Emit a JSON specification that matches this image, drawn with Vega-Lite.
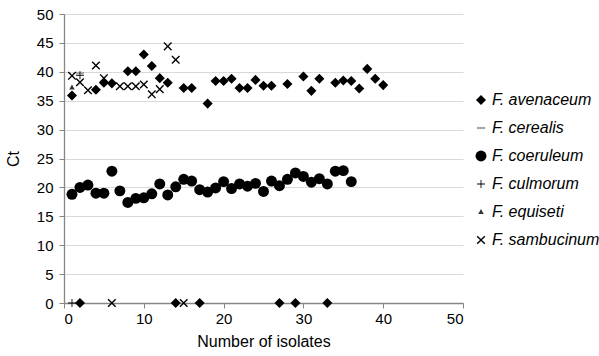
{
  "$schema": "https://vega.github.io/schema/vega-lite/v6.json",
  "width": 399,
  "height": 289,
  "autosize": {"type": "none"},
  "padding": {"left": 64, "top": 14, "right": 136, "bottom": 53},
  "background": "white",
  "config": {
    "font": "Liberation Sans",
    "view": {"stroke": null},
    "axis": {
      "labelFont": "Liberation Sans",
      "titleFont": "Liberation Sans",
      "labelFontSize": 15,
      "titleFontSize": 16,
      "titleFontWeight": "normal",
      "labelColor": "#000000",
      "titleColor": "#000000",
      "domainColor": "#868686",
      "domainWidth": 1.3,
      "tickColor": "#868686",
      "tickSize": 5,
      "gridColor": "#d9d9d9"
    }
  },
  "data": {
    "values": [
      {"species": "F. avenaceum", "n": 1, "ct": 35.9},
      {"species": "F. avenaceum", "n": 2, "ct": 0},
      {"species": "F. avenaceum", "n": 4, "ct": 36.9},
      {"species": "F. avenaceum", "n": 5, "ct": 38.1},
      {"species": "F. avenaceum", "n": 6, "ct": 38.0},
      {"species": "F. avenaceum", "n": 8, "ct": 40.1},
      {"species": "F. avenaceum", "n": 9, "ct": 40.1},
      {"species": "F. avenaceum", "n": 10, "ct": 43.0},
      {"species": "F. avenaceum", "n": 11, "ct": 41.0},
      {"species": "F. avenaceum", "n": 12, "ct": 38.9},
      {"species": "F. avenaceum", "n": 13, "ct": 38.1},
      {"species": "F. avenaceum", "n": 14, "ct": 0},
      {"species": "F. avenaceum", "n": 15, "ct": 37.2},
      {"species": "F. avenaceum", "n": 16, "ct": 37.2},
      {"species": "F. avenaceum", "n": 17, "ct": 0},
      {"species": "F. avenaceum", "n": 18, "ct": 34.5},
      {"species": "F. avenaceum", "n": 19, "ct": 38.4},
      {"species": "F. avenaceum", "n": 20, "ct": 38.4},
      {"species": "F. avenaceum", "n": 21, "ct": 38.8},
      {"species": "F. avenaceum", "n": 22, "ct": 37.2},
      {"species": "F. avenaceum", "n": 23, "ct": 37.2},
      {"species": "F. avenaceum", "n": 24, "ct": 38.6},
      {"species": "F. avenaceum", "n": 25, "ct": 37.6},
      {"species": "F. avenaceum", "n": 26, "ct": 37.6},
      {"species": "F. avenaceum", "n": 27, "ct": 0},
      {"species": "F. avenaceum", "n": 28, "ct": 37.9},
      {"species": "F. avenaceum", "n": 29, "ct": 0},
      {"species": "F. avenaceum", "n": 30, "ct": 39.2},
      {"species": "F. avenaceum", "n": 31, "ct": 36.7},
      {"species": "F. avenaceum", "n": 32, "ct": 38.8},
      {"species": "F. avenaceum", "n": 33, "ct": 0},
      {"species": "F. avenaceum", "n": 34, "ct": 38.1},
      {"species": "F. avenaceum", "n": 35, "ct": 38.5},
      {"species": "F. avenaceum", "n": 36, "ct": 38.4},
      {"species": "F. avenaceum", "n": 37, "ct": 37.1},
      {"species": "F. avenaceum", "n": 38, "ct": 40.5},
      {"species": "F. avenaceum", "n": 39, "ct": 38.8},
      {"species": "F. avenaceum", "n": 40, "ct": 37.7},
      {"species": "F. cerealis", "n": 2, "ct": 39.8},
      {"species": "F. coeruleum", "n": 1, "ct": 18.8},
      {"species": "F. coeruleum", "n": 2, "ct": 20.0},
      {"species": "F. coeruleum", "n": 3, "ct": 20.4},
      {"species": "F. coeruleum", "n": 4, "ct": 19.0},
      {"species": "F. coeruleum", "n": 5, "ct": 19.0},
      {"species": "F. coeruleum", "n": 6, "ct": 22.8},
      {"species": "F. coeruleum", "n": 7, "ct": 19.4},
      {"species": "F. coeruleum", "n": 8, "ct": 17.4},
      {"species": "F. coeruleum", "n": 9, "ct": 18.1},
      {"species": "F. coeruleum", "n": 10, "ct": 18.2},
      {"species": "F. coeruleum", "n": 11, "ct": 18.9},
      {"species": "F. coeruleum", "n": 12, "ct": 20.6},
      {"species": "F. coeruleum", "n": 13, "ct": 18.7},
      {"species": "F. coeruleum", "n": 14, "ct": 20.1},
      {"species": "F. coeruleum", "n": 15, "ct": 21.4},
      {"species": "F. coeruleum", "n": 16, "ct": 21.1},
      {"species": "F. coeruleum", "n": 17, "ct": 19.6},
      {"species": "F. coeruleum", "n": 18, "ct": 19.2},
      {"species": "F. coeruleum", "n": 19, "ct": 19.9},
      {"species": "F. coeruleum", "n": 20, "ct": 21.0},
      {"species": "F. coeruleum", "n": 21, "ct": 19.8},
      {"species": "F. coeruleum", "n": 22, "ct": 20.6},
      {"species": "F. coeruleum", "n": 23, "ct": 20.2},
      {"species": "F. coeruleum", "n": 24, "ct": 20.7},
      {"species": "F. coeruleum", "n": 25, "ct": 19.3},
      {"species": "F. coeruleum", "n": 26, "ct": 21.1},
      {"species": "F. coeruleum", "n": 27, "ct": 20.3},
      {"species": "F. coeruleum", "n": 28, "ct": 21.4},
      {"species": "F. coeruleum", "n": 29, "ct": 22.5},
      {"species": "F. coeruleum", "n": 30, "ct": 21.9},
      {"species": "F. coeruleum", "n": 31, "ct": 20.9},
      {"species": "F. coeruleum", "n": 32, "ct": 21.5},
      {"species": "F. coeruleum", "n": 33, "ct": 20.6},
      {"species": "F. coeruleum", "n": 34, "ct": 22.8},
      {"species": "F. coeruleum", "n": 35, "ct": 22.9},
      {"species": "F. coeruleum", "n": 36, "ct": 21.0},
      {"species": "F. culmorum", "n": 1, "ct": 0},
      {"species": "F. culmorum", "n": 2, "ct": 39.4},
      {"species": "F. equiseti", "n": 1, "ct": 37.3},
      {"species": "F. sambucinum", "n": 1, "ct": 39.3},
      {"species": "F. sambucinum", "n": 2, "ct": 38.2},
      {"species": "F. sambucinum", "n": 3, "ct": 36.8},
      {"species": "F. sambucinum", "n": 4, "ct": 41.1},
      {"species": "F. sambucinum", "n": 5, "ct": 38.9},
      {"species": "F. sambucinum", "n": 6, "ct": 0},
      {"species": "F. sambucinum", "n": 7, "ct": 37.5},
      {"species": "F. sambucinum", "n": 8, "ct": 37.5},
      {"species": "F. sambucinum", "n": 9, "ct": 37.5},
      {"species": "F. sambucinum", "n": 10, "ct": 37.8},
      {"species": "F. sambucinum", "n": 11, "ct": 36.1},
      {"species": "F. sambucinum", "n": 12, "ct": 37.0},
      {"species": "F. sambucinum", "n": 13, "ct": 44.4},
      {"species": "F. sambucinum", "n": 14, "ct": 42.1},
      {"species": "F. sambucinum", "n": 15, "ct": 0}
    ]
  },
  "mark": {"type": "point", "filled": true, "opacity": 1, "size": 120, "strokeWidth": 0},
  "encoding": {
    "x": {
      "field": "n",
      "type": "quantitative",
      "scale": {"domain": [0, 50], "nice": false, "zero": true},
      "axis": {
        "title": "Number of isolates",
        "values": [0, 10, 20, 30, 40, 50],
        "grid": false,
        "labelPadding": 3,
        "titlePadding": 7
      }
    },
    "y": {
      "field": "ct",
      "type": "quantitative",
      "scale": {"domain": [0, 50], "nice": false},
      "axis": {
        "title": "Ct",
        "values": [0, 5, 10, 15, 20, 25, 30, 35, 40, 45, 50],
        "grid": true,
        "labelPadding": 6,
        "titlePadding": 15
      }
    },
    "shape": {
      "field": "species",
      "type": "nominal",
      "scale": {
        "domain": ["F. avenaceum", "F. cerealis", "F. coeruleum", "F. culmorum", "F. equiseti", "F. sambucinum"],
        "range": [
          "M0,-0.92L0.92,0L0,0.92L-0.92,0Z",
          "M-0.75,-0.2H0.75V0.2H-0.75Z",
          "circle",
          "M-0.72,-0.08H-0.08V-0.72H0.08V-0.08H0.72V0.08H0.08V0.72H-0.08V0.08H-0.72Z",
          "M0,-0.55L0.5,0.38H-0.5Z",
          "M-0.78,-0.6L-0.6,-0.78L0,-0.18L0.6,-0.78L0.78,-0.6L0.18,0L0.78,0.6L0.6,0.78L0,0.18L-0.6,0.78L-0.78,0.6L-0.18,0Z"
        ]
      },
      "legend": {
        "title": null,
        "orient": "none",
        "legendX": 409,
        "legendY": 78,
        "padding": 0,
        "labelFont": "Liberation Sans",
        "labelFontSize": 16,
        "labelFontStyle": "italic",
        "labelColor": "#000000",
        "labelOffset": 3,
        "symbolSize": 120,
        "symbolStrokeWidth": 0,
        "rowPadding": 12
      }
    },
    "color": {
      "field": "species",
      "type": "nominal",
      "scale": {
        "domain": ["F. avenaceum", "F. cerealis", "F. coeruleum", "F. culmorum", "F. equiseti", "F. sambucinum"],
        "range": ["#000000", "#a6a6a6", "#000000", "#000000", "#333333", "#000000"]
      }
    }
  }
}
